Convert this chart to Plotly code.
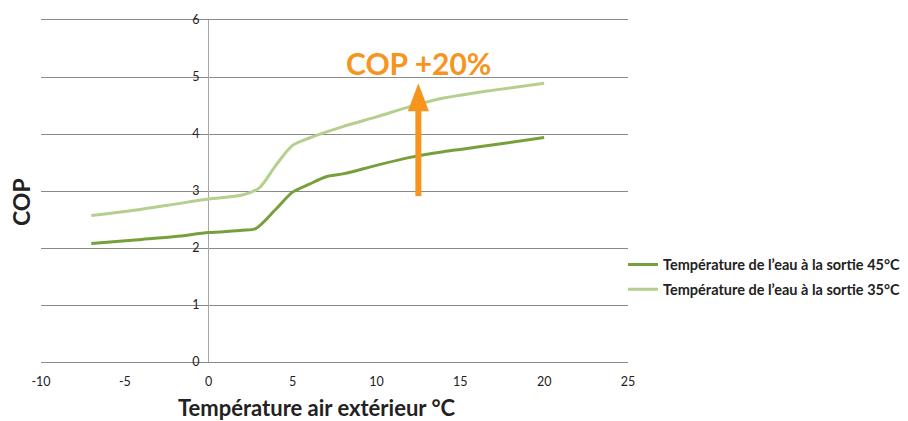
import plotly.graph_objects as go

# Outdoor air temperature (°C) and COP for two water outlet temperatures
temp_45 = [-7, -4, -2, 0, 2, 2.8, 4, 5, 6, 7, 8, 10, 12, 14, 15, 17, 20]
cop_45 = [2.08, 2.15, 2.20, 2.27, 2.31, 2.34, 2.68, 2.98, 3.12, 3.25, 3.30, 3.45, 3.59, 3.69, 3.73, 3.81, 3.94]

temp_35 = [-7, -4, -2, 0, 2, 3, 4, 5, 6, 8, 10, 12, 14, 15, 17, 20]
cop_35 = [2.57, 2.68, 2.77, 2.86, 2.93, 3.05, 3.45, 3.80, 3.93, 4.13, 4.30, 4.48, 4.63, 4.68, 4.77, 4.89]

name_45 = "Température de l’eau à la sortie 45°C"
name_35 = "Température de l’eau à la sortie 35°C"

x_ticks = [-10, -5, 0, 5, 10, 15, 20, 25]
x_tick_labels = ["-10", "-5", "0", "5", "10", "15", "20", "25"]
y_ticks = [0, 1, 2, 3, 4, 5, 6]

# Highlight arrow: position and extent in data units
arrow_x = 12.5
arrow_from = 2.91
arrow_base = 4.40
arrow_tip = 4.89
arrow_half_width = 0.63
gain_label = "COP +20%"
gain_label_y = 5.25

color_45 = "#77A03C"
color_35 = "#B4CF8E"
orange = "#F7941D"
grid = "#8A8A8A"
font = "Lato, 'Open Sans', sans-serif"

fig = go.Figure()
fig.add_trace(go.Scatter(x=temp_45, y=cop_45, mode="lines", name=name_45, legendgroup="w45",
                         line=dict(color=color_45, width=3, shape="spline", smoothing=0.8)))
fig.add_trace(go.Scatter(x=temp_35, y=cop_35, mode="lines", name=name_35, legendgroup="w35",
                         line=dict(color=color_35, width=3, shape="spline", smoothing=0.8)))

# Arrow shaft and head
fig.add_shape(type="line", x0=arrow_x, x1=arrow_x, y0=arrow_from, y1=arrow_base + 0.05,
              line=dict(color=orange, width=6), layer="above")
fig.add_shape(type="path",
              path=f"M {arrow_x - arrow_half_width},{arrow_base} L {arrow_x + arrow_half_width},{arrow_base} L {arrow_x},{arrow_tip} Z",
              fillcolor=orange, line=dict(color=orange, width=0), layer="above")

fig.add_annotation(x=arrow_x, y=gain_label_y, text=f"<b>{gain_label}</b>", showarrow=False,
                   font=dict(family=font, size=30, color=orange), xanchor="center", yanchor="middle")

# Axis titles
fig.add_annotation(xref="paper", yref="paper", x=(317 - 41) / 587, y=-45 / 342,
                   text="<b>Température air extérieur °C</b>", showarrow=False,
                   font=dict(family=font, size=22, color="#222222"), xanchor="center", yanchor="middle")
fig.add_annotation(xref="paper", yref="paper", x=(21 - 41) / 587, y=(362 - 202) / 342,
                   text="<b>COP</b>", showarrow=False, textangle=-90,
                   font=dict(family=font, size=23, color="#222222"), xanchor="center", yanchor="middle")

fig.update_layout(
    width=908, height=421,
    margin=dict(l=41, r=280, t=20, b=59, autoexpand=False),
    paper_bgcolor="white", plot_bgcolor="white",
    font=dict(family=font, size=12.5, color="#222222"),
    showlegend=True,
    legend=dict(x=(623 - 41) / 587, xanchor="left", y=(362 - 277) / 342, yanchor="middle",
                font=dict(family=font, size=14.5, color="#222222", weight="bold"),
                bgcolor="rgba(0,0,0,0)", tracegroupgap=3, itemwidth=30),
)

fig.update_xaxes(range=[-10, 25], tickvals=x_ticks, ticktext=x_tick_labels, showgrid=False,
                 zeroline=True, zerolinecolor="#A6A6A6", zerolinewidth=1,
                 showline=True, mirror=True, linecolor=grid, linewidth=1,
                 ticks="outside", ticklen=8, tickcolor="rgba(0,0,0,0)",
                 tickfont=dict(size=12.5, color="#222222"))
fig.update_yaxes(range=[0, 6], tickvals=y_ticks, showgrid=True, gridcolor=grid, gridwidth=1,
                 zeroline=False, showline=False, anchor="free", position=(209 - 41) / 587,
                 ticks="outside", ticklen=7, tickcolor="rgba(0,0,0,0)",
                 tickfont=dict(size=12.5, color="#222222"))

fig.write_html("out.html")
